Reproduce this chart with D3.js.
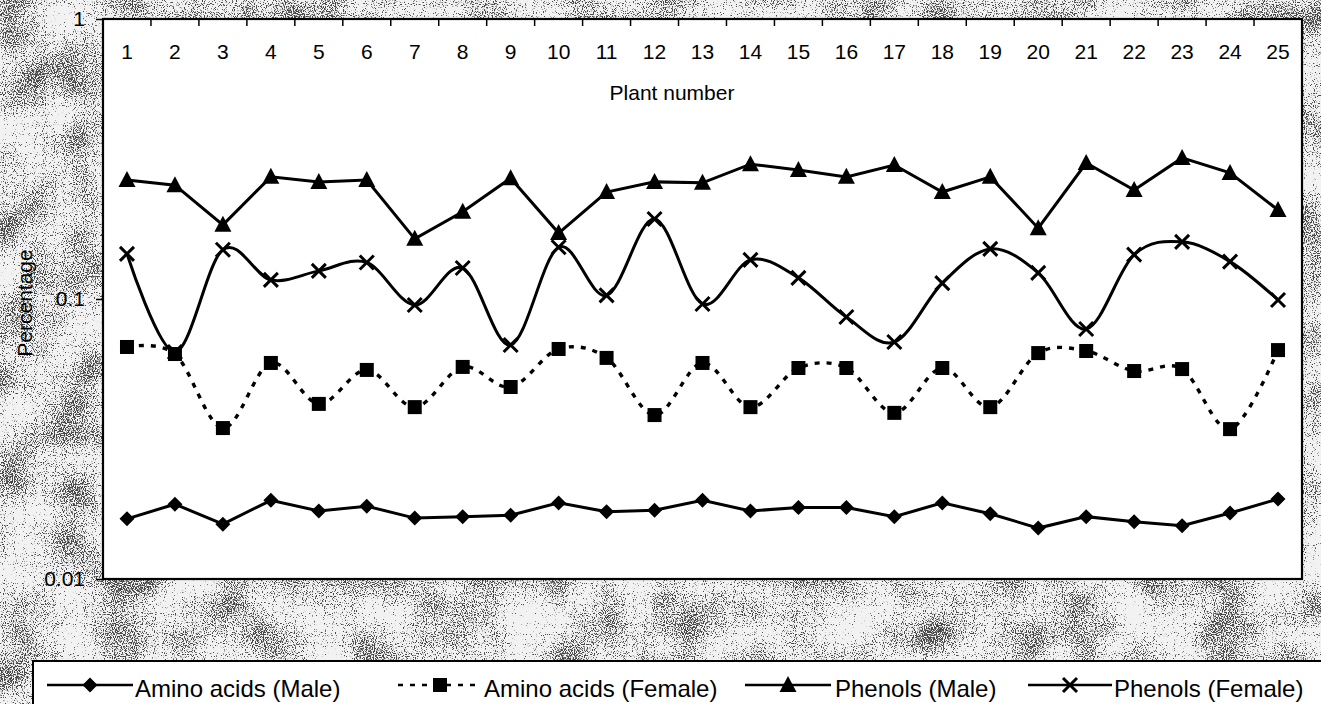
<!DOCTYPE html>
<html>
<head>
<meta charset="utf-8">
<script src="https://cdn.jsdelivr.net/npm/d3@7"></script>
<style>
  html, body { margin: 0; padding: 0; background: #fff; }
  svg { display: block; font-family: Arial, "Liberation Sans", Helvetica, sans-serif; }
</style>
</head>
<body>
<svg id="chart" width="1321" height="704"></svg>
<script>
// ---- data ----
const plants = ["1","2","3","4","5","6","7","8","9","10","11","12","13","14","15","16","17","18","19","20","21","22","23","24","25"];
const yTicks = [0.01, 0.1, 1];
const yTickLabels = ["0.01", "0.1", "1"];
const seriesNames = ["Amino acids (Male)", "Amino acids (Female)", "Phenols (Male)", "Phenols (Female)"];
const aminoMale   = [0.0164,0.0185,0.0157,0.0191,0.0175,0.0182,0.0165,0.0167,0.0169,0.0187,0.0174,0.0176,0.0191,0.0175,0.0180,0.0180,0.0167,0.0187,0.0171,0.0152,0.0167,0.0160,0.0155,0.0172,0.0193];
const aminoFemale = [0.0674,0.0636,0.0346,0.0591,0.0422,0.0558,0.0411,0.0572,0.0485,0.0663,0.0616,0.0385,0.0591,0.0411,0.0567,0.0567,0.0392,0.0567,0.0411,0.0641,0.0652,0.0553,0.0562,0.0343,0.0657];
const phenolsMale = [0.266,0.255,0.184,0.273,0.262,0.266,0.164,0.205,0.270,0.172,0.241,0.262,0.260,0.303,0.289,0.273,0.301,0.241,0.273,0.179,0.306,0.245,0.319,0.282,0.208];
const phenolsFemale = [0.145,0.0647,0.150,0.117,0.126,0.135,0.0952,0.129,0.0685,0.153,0.103,0.193,0.0960,0.138,0.119,0.0862,0.0702,0.114,0.151,0.124,0.0781,0.144,0.160,0.136,0.0992];

// ---- layout ----
const W = 1321, H = 704;
const L = 103, R = 1302, T = 19, B = 579;
const svg = d3.select("#chart");

// fine speckled "scanned" background
const defs = svg.append("defs");
const f = defs.append("filter").attr("id", "grain")
  .attr("x", 0).attr("y", 0).attr("width", "100%").attr("height", "100%")
  .attr("filterUnits", "userSpaceOnUse")
  .attr("color-interpolation-filters", "sRGB");
f.append("feTurbulence").attr("type", "fractalNoise").attr("baseFrequency", 0.9)
  .attr("numOctaves", 1).attr("seed", 3).attr("result", "hi");
f.append("feColorMatrix").attr("in", "hi").attr("type", "matrix")
  .attr("values", "1 0 0 0 0  0 1 0 0 0  0 0 1 0 0  0 0 0 0 1").attr("result", "hiO");
f.append("feTurbulence").attr("type", "fractalNoise").attr("baseFrequency", 0.02)
  .attr("numOctaves", 2).attr("seed", 11).attr("result", "lo");
f.append("feColorMatrix").attr("in", "lo").attr("type", "matrix")
  .attr("values", "1 0 0 0 0  0 1 0 0 0  0 0 1 0 0  0 0 0 0 1").attr("result", "loO");
f.append("feComposite").attr("in", "hiO").attr("in2", "loO").attr("operator", "arithmetic")
  .attr("k1", 0).attr("k2", 1).attr("k3", 0.45).attr("k4", -0.225).attr("result", "sum");
f.append("feColorMatrix").attr("in", "sum").attr("type", "matrix")
  .attr("values", "0 0 0 0 0  0 0 0 0 0  0 0 0 0 0  10 0 0 0 -5.55");

svg.append("rect").attr("width", W).attr("height", H).attr("fill", "#f2f2f2");
svg.append("rect").attr("width", W).attr("height", H).attr("fill", "#000")
  .attr("filter", "url(#grain)").attr("opacity", 0.7);

// plot area
svg.append("rect").attr("x", L).attr("y", T).attr("width", R - L).attr("height", B - T)
  .attr("fill", "#fff");

const x = d3.scaleBand().domain(plants).range([L, R]);
const cx = d => x(d) + x.bandwidth() / 2;
const y = d3.scaleLog().domain([0.01, 1]).range([B, T]);

// top category labels (inside plot)
const xAxis = d3.axisBottom(x).tickSize(0).tickPadding(25);
const gx = svg.append("g").attr("transform", `translate(0,${T})`).call(xAxis);
gx.select(".domain").remove();
gx.attr("font-size", null).attr("font-family", null);
gx.selectAll("text").attr("font-size", 21).attr("fill", "#000");

// inner tick marks at category boundaries
svg.append("g").selectAll("line").data(plants.slice(1)).join("line")
  .attr("x1", d => x(d)).attr("x2", d => x(d))
  .attr("y1", T).attr("y2", T + 7)
  .attr("stroke", "#000").attr("stroke-width", 1.5);

svg.append("text").attr("x", 672).attr("y", 100).attr("text-anchor", "middle")
  .attr("font-size", 21).text("Plant number");

// left axis
const yAxis = d3.axisLeft(y).tickValues(yTicks)
  .tickFormat((d, i) => yTickLabels[i]).tickSize(7).tickPadding(11);
const gy = svg.append("g").attr("transform", `translate(${L},0)`).call(yAxis);
gy.select(".domain").remove();
gy.attr("font-size", null).attr("font-family", null);
gy.selectAll("line").attr("stroke-width", 1.5);
gy.selectAll("text").attr("font-size", 21).attr("fill", "#000");

svg.append("text").attr("transform", `translate(32,${(T + B) / 2 + 4}) rotate(-90)`)
  .attr("text-anchor", "middle").attr("font-size", 21).text("Percentage");

// plot frame
svg.append("rect").attr("x", L).attr("y", T).attr("width", R - L).attr("height", B - T)
  .attr("fill", "none").attr("stroke", "#000").attr("stroke-width", 2.2);

// ---- series ----
const smooth = d3.curveCardinal.tension(0);
const series = [
  { name: seriesNames[0], values: aminoMale, curve: d3.curveLinear, dash: null, marker: "diamond" },
  { name: seriesNames[1], values: aminoFemale, curve: smooth, dash: "5,7", marker: "square" },
  { name: seriesNames[2], values: phenolsMale, curve: d3.curveLinear, dash: null, marker: "triangle" },
  { name: seriesNames[3], values: phenolsFemale, curve: smooth, dash: null, marker: "cross" }
];

function drawMarker(g, type, px, py) {
  if (type === "diamond") {
    g.append("path").attr("d", `M${px},${py - 7.5}L${px + 7.5},${py}L${px},${py + 7.5}L${px - 7.5},${py}Z`)
      .attr("fill", "#000");
  } else if (type === "square") {
    g.append("rect").attr("x", px - 7).attr("y", py - 7).attr("width", 14).attr("height", 14)
      .attr("fill", "#000");
  } else if (type === "triangle") {
    g.append("path").attr("d", `M${px},${py - 9}L${px + 8.5},${py + 7}L${px - 8.5},${py + 7}Z`)
      .attr("fill", "#000");
  } else if (type === "cross") {
    g.append("path").attr("d", `M${px - 7},${py - 7}L${px + 7},${py + 7}M${px + 7},${py - 7}L${px - 7},${py + 7}`)
      .attr("stroke", "#000").attr("stroke-width", 3).attr("fill", "none");
  }
}

series.forEach(s => {
  const pts = s.values.map((v, i) => [cx(plants[i]), y(v)]);
  const line = d3.line().curve(s.curve);
  const p = svg.append("path").attr("d", line(pts))
    .attr("fill", "none").attr("stroke", "#000").attr("stroke-width", 3);
  if (s.dash) p.attr("stroke-dasharray", s.dash).attr("stroke-width", 3.4);
  const g = svg.append("g");
  pts.forEach(([px, py]) => drawMarker(g, s.marker, px, py));
});

// ---- legend ----
svg.append("rect").attr("x", 33).attr("y", 661).attr("width", 1400).attr("height", 100)
  .attr("fill", "#fff").attr("stroke", "#000").attr("stroke-width", 2);
const legendPos = [
  { x0: 47, x1: 133, tx: 135 },
  { x0: 398, x1: 482, tx: 484 },
  { x0: 745, x1: 831, tx: 835 },
  { x0: 1028, x1: 1112, tx: 1114 }
];
const ly = 685;
series.forEach((s, i) => {
  const lp = legendPos[i];
  const g = svg.append("g");
  const l = g.append("line").attr("x1", lp.x0).attr("x2", lp.x1).attr("y1", ly).attr("y2", ly)
    .attr("stroke", "#000").attr("stroke-width", 2.5);
  if (s.dash) l.attr("stroke-dasharray", s.dash);
  drawMarker(g, s.marker, (lp.x0 + lp.x1) / 2, ly);
  g.append("text").attr("x", lp.tx).attr("y", 697).attr("font-size", 24).text(s.name);
});
</script>
</body>
</html>
